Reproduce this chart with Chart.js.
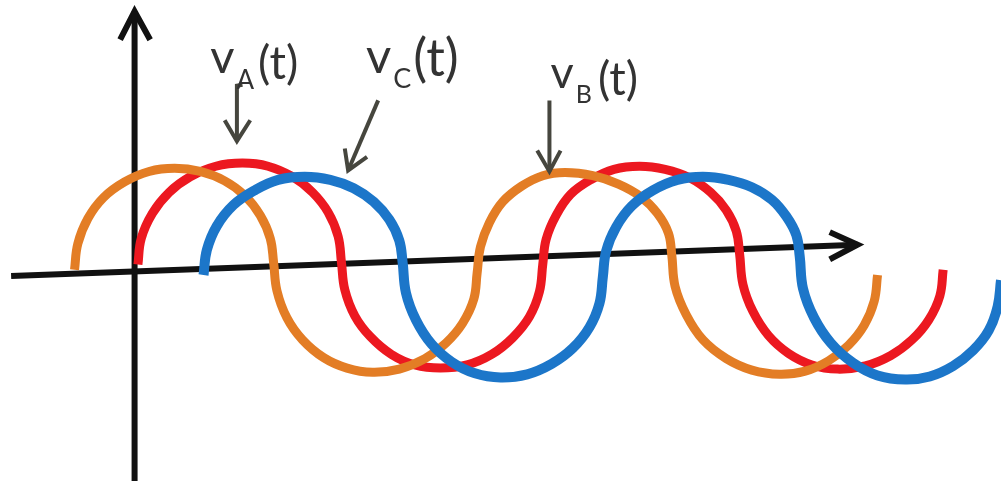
<!DOCTYPE html>
<html><head><meta charset="utf-8">
<script src="https://cdn.jsdelivr.net/npm/chart.js@4/dist/chart.umd.min.js"></script>
<style>html,body{margin:0;padding:0;background:#fff;}#wrap{width:1001px;height:481px;}</style>
</head><body><div id="wrap"><canvas id="c" width="1001" height="481"></canvas></div>
<script>
// x: phase angle (degrees), y: voltage (per unit).
const phaseA = [[3,0.07],[6,0.32],[16,0.56],[31,0.76],[50,0.91],[73,1.01],[97,1.04],[120,1.01],[142,0.91],[160,0.76],[174,0.57],[183,0.34],[186,0.09],
  [189,-0.17],[198,-0.42],[212,-0.62],[231,-0.79],[252,-0.89],[275,-0.92],[299,-0.89],[321,-0.79],[340,-0.63],[355,-0.43],[364,-0.19],[367,0.07],
  [370,0.31],[379,0.54],[392,0.74],[410,0.88],[431,0.98],[454,1.01],[477,0.98],[499,0.90],[518,0.76],[532,0.59],[541,0.39],[544,0.17],
  [547,-0.12],[556,-0.38],[570,-0.61],[588,-0.78],[609,-0.89],[632,-0.93],[657,-0.90],[680,-0.80],[699,-0.65],[714,-0.46],[724,-0.23],[727,0.02]];
const phaseB = [[-54,0.02],[-51,0.27],[-42,0.51],[-28,0.71],[-9,0.86],[13,0.96],[36,0.99],[59,0.96],[81,0.87],[99,0.73],[113,0.54],[122,0.32],[125,0.09],
  [128,-0.18],[137,-0.44],[151,-0.65],[170,-0.82],[191,-0.92],[214,-0.96],[238,-0.93],[261,-0.83],[280,-0.68],[295,-0.49],[305,-0.26],[308,-0.01],
  [311,0.24],[319,0.47],[331,0.67],[348,0.82],[367,0.92],[387,0.95],[412,0.92],[435,0.84],[455,0.72],[470,0.56],[480,0.37],[483,0.16],
  [486,-0.14],[496,-0.41],[511,-0.65],[532,-0.83],[555,-0.94],[580,-0.98],[603,-0.95],[624,-0.85],[642,-0.70],[656,-0.51],[665,-0.28],[668,-0.03]];
const phaseC = [[62,-0.03],[65,0.21],[74,0.44],[89,0.64],[108,0.78],[129,0.88],[153,0.91],[176,0.88],[197,0.80],[215,0.67],[229,0.50],[238,0.30],[241,0.09],
  [244,-0.20],[253,-0.46],[267,-0.69],[285,-0.86],[306,-0.97],[329,-1.01],[353,-0.98],[375,-0.88],[394,-0.73],[409,-0.53],[418,-0.30],[421,-0.05],
  [424,0.20],[433,0.43],[447,0.63],[466,0.78],[488,0.88],[511,0.91],[534,0.88],[555,0.81],[573,0.69],[586,0.53],[595,0.35],[598,0.15],
  [601,-0.16],[611,-0.44],[626,-0.68],[646,-0.87],[668,-0.99],[693,-1.03],[715,-1.00],[736,-0.90],[754,-0.75],[768,-0.56],[776,-0.33],[779,-0.08]];
const timeAxis = [[-111,-0.04],[650,0.26]];
const timeAxisHead = [[625,0.38],[650,0.26],[625,0.12]];
const voltAxis = [[0,-2.0],[0,2.49]];
const voltAxisHead = [[-13,2.22],[0,2.49],[14,2.22]];
const pointerA = [[97,1.79],[92,1.78],[92,1.25]];
const pointerAHead = [[81,1.45],[92,1.25],[104,1.45]];
const pointerC = [[219,1.64],[192,0.97]];
const pointerCHead = [[189,1.18],[192,0.97],[209,1.10]];
const pointerB = [[373,1.64],[373,0.96]];
const pointerBHead = [[362,1.16],[373,0.96],[383,1.16]];
const phaseNames = ['A','C','B'];
const xRange = [-121, 779];
const yRange = [-2.0, 2.6];

// label layout (anchor in data units, sizes in px)
const labelCfg = [
  {at:[68,1.90], v:47, s:26, p:46, sd:16, pd:6, g1:2, g2:4},
  {at:[208,1.90], v:49, s:27, p:52, sd:15, pd:3, g1:2, g2:2},
  {at:[374,1.76], v:45, s:25, p:46, sd:15, pd:7, g1:2, g2:6}
];
const FONT = 'Lato, "Open Sans", sans-serif';

function seg(data, color, width, order, opts) {
  return Object.assign({data, borderColor: color, backgroundColor: color, borderWidth: width,
    pointRadius: 0, pointHoverRadius: 0, showLine: true, fill: false, tension: 0, order,
    borderCapStyle: 'butt', borderJoinStyle: 'miter'}, opts || {});
}
const AX = '#111111', PT = '#46463e';
const curve = {tension: 0.4, borderJoinStyle: 'round'};
const datasets = [
  seg(timeAxis, AX, 6, 9), seg(timeAxisHead, AX, 6, 9),
  seg(voltAxis, AX, 6, 9), seg(voltAxisHead, AX, 6, 9),
  seg(phaseA, '#ec1820', 9, 4, curve),
  seg(phaseB, '#e37d25', 9, 3, curve),
  seg(phaseC, '#1c76c9', 10, 2, curve),
  seg(pointerA, PT, 4, 1), seg(pointerAHead, PT, 4, 1),
  seg(pointerC, PT, 4, 1), seg(pointerCHead, PT, 4, 1),
  seg(pointerB, PT, 4, 1), seg(pointerBHead, PT, 4, 1)
];

const labelPlugin = {
  id: 'phaseLabels',
  afterDatasetsDraw(chart) {
    const {ctx, scales: {x, y}} = chart;
    labelCfg.forEach((l, i) => {
      let px = x.getPixelForValue(l.at[0]);
      const py = y.getPixelForValue(l.at[1]);
      ctx.save();
      ctx.fillStyle = '#333333';
      ctx.textAlign = 'left';
      ctx.textBaseline = 'alphabetic';
      ctx.font = l.v + 'px ' + FONT;
      ctx.fillText('v', px, py);
      px += ctx.measureText('v').width + l.g1;
      ctx.font = l.s + 'px ' + FONT;
      ctx.fillText(phaseNames[i], px, py + l.sd);
      px += ctx.measureText(phaseNames[i]).width + l.g2;
      ctx.font = l.p + 'px ' + FONT;
      ctx.fillText('(t)', px, py + l.pd);
      ctx.restore();
    });
  }
};

function draw() {
  new Chart(document.getElementById('c'), {
    type: 'scatter',
    data: {datasets},
    options: {
      responsive: false,
      animation: false,
      events: [],
      layout: {padding: 0},
      plugins: {legend: {display: false}, tooltip: {enabled: false}},
      scales: {
        x: {type: 'linear', min: xRange[0], max: xRange[1], display: false},
        y: {type: 'linear', min: yRange[0], max: yRange[1], display: false}
      }
    },
    plugins: [labelPlugin]
  });
}
if (document.fonts && document.fonts.load) {
  document.fonts.load('48px Lato').then(draw, draw);
} else { draw(); }
</script>
</body></html>
